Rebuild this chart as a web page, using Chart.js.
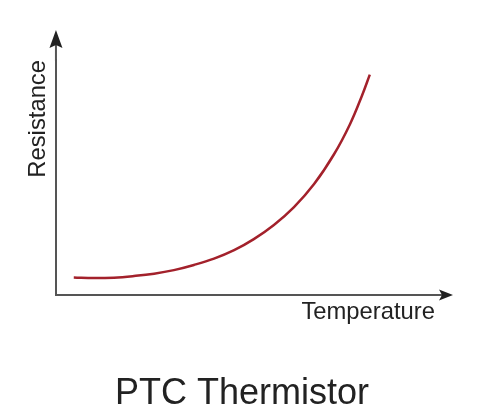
<!DOCTYPE html>
<html>
<head>
<meta charset="utf-8">
<script src="https://cdn.jsdelivr.net/npm/chart.js@4.4.1/dist/chart.umd.min.js"></script>
<style>
    html, body { margin: 0; padding: 0; background: #fff; }
    #wrap { width: 484px; height: 420px; position: relative; }
</style>
</head>
<body>
<div id="wrap"><canvas id="ptcChart"></canvas></div>
<script>
// curve (arbitrary units, 0-100 on both axes)
const temperature = [4.7, 10.0, 15.3, 20.6, 25.9, 31.1, 36.4, 41.7, 47.0, 52.2, 57.5, 62.8, 68.1, 73.4, 77.6, 80.7, 82.8];
const resistance  = [7.5, 7.2, 7.4, 8.1, 9.1, 10.6, 12.8, 15.5, 19.1, 23.8, 29.8, 37.4, 47.2, 60.0, 72.8, 84.7, 93.8];

const titleText = 'PTC Thermistor';
const xTitle = 'Temperature';
const yTitle = 'Resistance';

const axisColor = '#555555';
const arrowColor = '#222222';
const textColor = '#222222';
const fontFamily = 'Liberation Sans, Arial, sans-serif';

const points = temperature.map((t, i) => ({ x: t, y: resistance[i] }));

// axis stems + arrowheads beyond the chart area
const arrowAxes = {
    id: 'arrowAxes',
    afterDraw(chart) {
        const { ctx, chartArea: a } = chart;
        ctx.save();
        ctx.strokeStyle = axisColor;
        ctx.lineWidth = 2;
        ctx.beginPath();
        ctx.moveTo(a.left, a.top + 1);
        ctx.lineTo(a.left, a.top - 16);
        ctx.moveTo(a.right - 1, a.bottom);
        ctx.lineTo(a.right + 8, a.bottom);
        ctx.stroke();

        ctx.fillStyle = arrowColor;
        // up arrow
        ctx.beginPath();
        ctx.moveTo(a.left, a.top - 30);
        ctx.lineTo(a.left + 6.5, a.top - 12);
        ctx.lineTo(a.left, a.top - 15);
        ctx.lineTo(a.left - 6.5, a.top - 12);
        ctx.closePath();
        ctx.fill();
        // right arrow
        ctx.beginPath();
        ctx.moveTo(a.right + 18, a.bottom);
        ctx.lineTo(a.right + 4, a.bottom - 5.5);
        ctx.lineTo(a.right + 7, a.bottom);
        ctx.lineTo(a.right + 4, a.bottom + 5.5);
        ctx.closePath();
        ctx.fill();
        ctx.restore();
    }
};

const ctx = document.getElementById('ptcChart').getContext('2d');

new Chart(ctx, {
    type: 'line',
    data: {
        datasets: [{
            data: points,
            borderColor: '#a3212b',
            borderWidth: 2.5,
            pointRadius: 0,
            fill: false,
            tension: 0.4
        }]
    },
    options: {
        responsive: true,
        maintainAspectRatio: false,
        animation: false,
        layout: {
            padding: { left: 20, right: 20, top: 60, bottom: 0 }
        },
        plugins: {
            legend: { display: false },
            tooltip: { enabled: false },
            title: {
                display: true,
                text: titleText,
                position: 'bottom',
                color: textColor,
                font: { family: fontFamily, size: 36, weight: 'normal' },
                padding: { top: 45.7, bottom: 4 }
            }
        },
        scales: {
            x: {
                type: 'linear',
                min: 0,
                max: 100,
                grid: { display: false, drawTicks: false },
                ticks: { display: false },
                border: { display: true, color: axisColor, width: 2 },
                title: {
                    display: true,
                    text: xTitle,
                    align: 'end',
                    color: textColor,
                    font: { family: fontFamily, size: 23.8 },
                    padding: { top: 3.5, bottom: 0 }
                }
            },
            y: {
                min: 0,
                max: 100,
                grid: { display: false, drawTicks: false },
                ticks: { display: false },
                border: { display: true, color: axisColor, width: 2 },
                title: {
                    display: true,
                    text: yTitle,
                    align: 'end',
                    color: textColor,
                    font: { family: fontFamily, size: 23.8 },
                    padding: { top: 3.7, bottom: 3.7 }
                }
            },
            // empty right-hand gutter so the arrow and the title's centre match the picture
            gutter: {
                position: 'right',
                min: 0,
                max: 1,
                grid: { display: false, drawTicks: false },
                ticks: { display: false },
                border: { display: false },
                afterFit(scale) { scale.width = 29; }
            }
        }
    },
    plugins: [arrowAxes]
});
</script>
</body>
</html>
